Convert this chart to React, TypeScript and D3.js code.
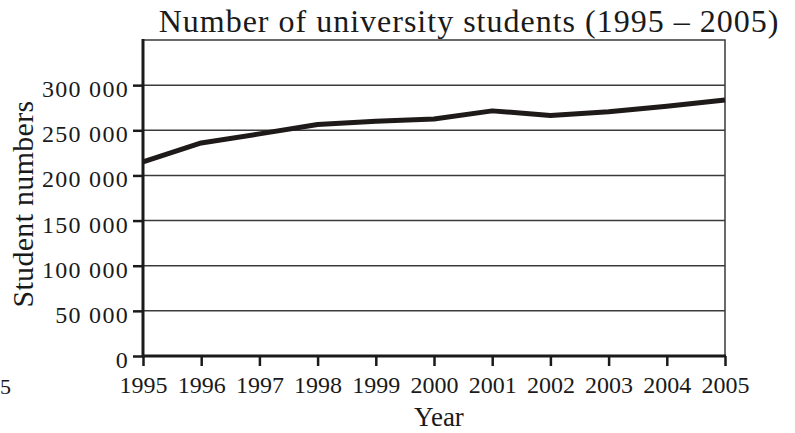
import { useEffect, useRef } from 'react';
import * as d3 from 'd3';

const years = [1995, 1996, 1997, 1998, 1999, 2000, 2001, 2002, 2003, 2004, 2005];
const students = [215000, 236000, 246000, 256500, 260000, 262500, 271500, 266500, 270500, 276500, 283500];
const yTicks = [0, 50000, 100000, 150000, 200000, 250000, 300000];
const yMaxValue = 350000;

const title = "Number of university students (1995 \u2013 2005)";
const xTitle = "Year";
const yTitle = "Student numbers";

const App = () => {
    const ref = useRef<SVGSVGElement>(null);
    const size: [number, number] = [795, 433];

    useEffect(() => {
        const svg = d3.select(ref.current);
        svg.selectAll("*").remove();

        const margin = { top: 40, right: 70, bottom: 77, left: 143 };
        const width = size[0] - margin.left - margin.right;
        const height = size[1] - margin.top - margin.bottom;
        const font = "'Liberation Serif', 'Times New Roman', serif";

        const g = svg.append("g")
            .attr("transform", "translate(" + margin.left + "," + margin.top + ")");

        const x = d3.scaleLinear().domain([years[0], years[years.length - 1]]).range([0, width]);
        const y = d3.scaleLinear().domain([0, yMaxValue]).range([height, 0]);

        const fmt = d3.formatLocale({ decimal: ".", thousands: " ", grouping: [3], currency: ["", ""] }).format(",d");

        // gridlines
        g.append("g")
            .selectAll("line")
            .data(yTicks.filter((d) => d > 0))
            .join("line")
            .attr("x1", 0)
            .attr("x2", width)
            .attr("y1", (d) => y(d))
            .attr("y2", (d) => y(d))
            .style("stroke", "#3a3a3a")
            .style("stroke-width", 1.5);

        // top and right frame
        g.append("path")
            .attr("d", "M0," + y(yMaxValue) + "H" + width + "V" + height)
            .style("fill", "none")
            .style("stroke", "#3a3a3a")
            .style("stroke-width", 1.5);

        // y axis
        const yAxis = g.append("g")
            .call(d3.axisLeft(y).tickValues(yTicks).tickSize(10).tickPadding(4).tickFormat((d) => fmt(d as number)));
        yAxis.select(".domain").remove();
        yAxis.append("line")
            .attr("x1", 0).attr("x2", 0)
            .attr("y1", y(yMaxValue) - 1).attr("y2", height + 1)
            .style("stroke", "#1a1a1a").style("stroke-width", 3);
        yAxis.selectAll(".tick line").style("stroke", "#1a1a1a").style("stroke-width", 2.5);
        yAxis.selectAll(".tick text")
            .attr("dy", "0.48em")
            .style("font-family", font)
            .style("font-size", "24px")
            .style("letter-spacing", "1.3px")
            .style("fill", "#1a1a1a");

        // x axis
        const xAxis = g.append("g")
            .attr("transform", "translate(0," + height + ")")
            .call(d3.axisBottom(x).tickValues(years).tickSize(10).tickPadding(10).tickFormat((d) => String(d)));
        xAxis.select(".domain").remove();
        xAxis.append("line")
            .attr("x1", -1).attr("x2", width + 1)
            .attr("y1", 0).attr("y2", 0)
            .style("stroke", "#1a1a1a").style("stroke-width", 3);
        xAxis.selectAll(".tick line").style("stroke", "#1a1a1a").style("stroke-width", 2.5);
        xAxis.selectAll(".tick text")
            .style("font-family", font)
            .style("font-size", "24px")
            .style("fill", "#1a1a1a");

        // data line
        const line = d3.line<number>()
            .x((_, i) => x(years[i]))
            .y((d) => y(d));

        g.append("path")
            .datum(students)
            .attr("d", line)
            .style("fill", "none")
            .style("stroke", "#1f1a1a")
            .style("stroke-width", 5)
            .style("stroke-linejoin", "round");

        // titles
        svg.append("text")
            .attr("x", 469)
            .attr("y", 32)
            .attr("text-anchor", "middle")
            .style("font-family", font)
            .style("font-size", "32px")
            .style("letter-spacing", "1px")
            .style("fill", "#1a1a1a")
            .text(title);

        svg.append("text")
            .attr("x", 439)
            .attr("y", 426)
            .attr("text-anchor", "middle")
            .style("font-family", font)
            .style("font-size", "27px")
            .style("fill", "#1a1a1a")
            .text(xTitle);

        svg.append("text")
            .attr("transform", "translate(33,204) rotate(-90)")
            .attr("text-anchor", "middle")
            .style("font-family", font)
            .style("font-size", "30px")
            .style("letter-spacing", "0.3px")
            .style("fill", "#1a1a1a")
            .text(yTitle);

        // stray label at the page edge
        svg.append("text")
            .attr("x", 0)
            .attr("y", 394)
            .style("font-family", font)
            .style("font-size", "22px")
            .style("fill", "#1a1a1a")
            .text("5");
    }, []);

    return (
        <div style={{ position: "absolute", left: 0, top: 0 }}>
            <svg width={size[0]} height={size[1]} ref={ref} style={{ display: "block", background: "#fff" }} />
        </div>
    );
};

export default App;
